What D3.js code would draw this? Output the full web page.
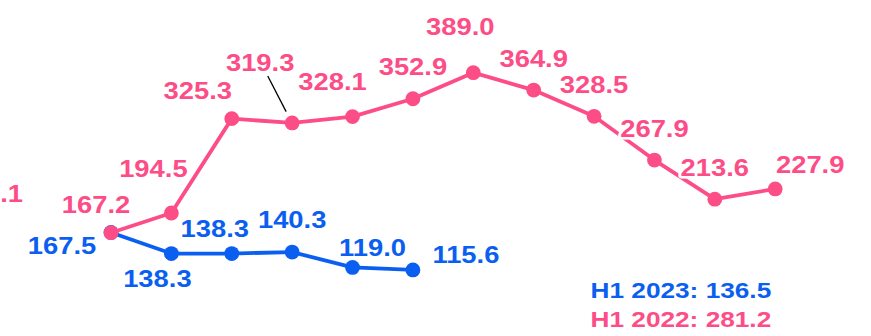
<!DOCTYPE html>
<html>
<head>
<meta charset="utf-8">
<script src="https://cdn.jsdelivr.net/npm/d3@7"></script>
<style>
  html, body { margin: 0; padding: 0; background: #ffffff; }
  svg { display: block; }
  text { font-family: "Liberation Sans", Arial, sans-serif; font-weight: bold; }
</style>
</head>
<body>
<svg id="chart" width="871" height="336"></svg>
<script>
// Monthly values
const months = ["Jan", "Feb", "Mar", "Apr", "May", "Jun", "Jul", "Aug", "Sep", "Oct", "Nov", "Dec"];
const values2022 = [167.2, 194.5, 325.3, 319.3, 328.1, 352.9, 389.0, 364.9, 328.5, 267.9, 213.6, 227.9];
const values2023 = [167.5, 138.3, 138.3, 140.3, 119.0, 115.6];
const summaryLabels = ["H1 2023: 136.5", "H1 2022: 281.2"];
const edgeLabel = ".1";

// Label placement (dx, dy from each point to the label's centre baseline)
const offsets2022 = [[-15, -20], [-18, -36], [-34, -20], [-32, -52], [-20, -27], [0, -24],
                     [-13, -38], [0, -23], [0, -23], [0, -23], [0, -23], [35, -16]];
const offsets2023 = [[-49, 21.5], [-14, 33], [-17, -17], [0, -24], [20, -11], [53, -7]];

const PINK = "#fd4d87";
const BLUE = "#0b5ff0";
const STRETCH = 1.19;

const svg = d3.select("#chart");

const x = d3.scalePoint().domain(months).range([111, 775.2]);
const y = d3.scaleLinear().domain([0, 400]).range([353.3, 64.75]);

const line = d3.line()
  .x((d, i) => x(months[i]))
  .y(d => y(d));

function drawSeries(vals, color) {
  const g = svg.append("g");
  g.append("path")
    .datum(vals)
    .attr("d", line)
    .attr("fill", "none")
    .attr("stroke", color)
    .attr("stroke-width", 3.8)
    .attr("stroke-linejoin", "round");
  g.selectAll("circle")
    .data(vals)
    .join("circle")
    .attr("cx", (d, i) => x(months[i]))
    .attr("cy", d => y(d))
    .attr("r", 7.4)
    .attr("fill", color);
}

drawSeries(values2023, BLUE);
drawSeries(values2022, PINK);

// Leader line for the crowded April label
const aprX = x(months[3]), aprY = y(values2022[3]);
svg.append("line")
  .attr("x1", aprX - 24.4).attr("y1", aprY - 47)
  .attr("x2", aprX - 6).attr("y2", aprY - 11.3)
  .attr("stroke", "#000").attr("stroke-width", 1.3);

function drawLabels(vals, offs, color) {
  svg.append("g").selectAll("text")
    .data(vals)
    .join("text")
    .attr("transform", (d, i) =>
      `translate(${x(months[i]) + offs[i][0]},${y(d) + offs[i][1]}) scale(${STRETCH},1)`)
    .attr("text-anchor", "middle")
    .attr("font-size", 23)
    .attr("fill", color)
    .attr("stroke", "#fff")
    .attr("stroke-width", 5)
    .attr("stroke-linejoin", "round")
    .attr("paint-order", "stroke")
    .text(d => d.toFixed(1));
}

drawLabels(values2023, offsets2023, BLUE);
drawLabels(values2022, offsets2022, PINK);

// Partial label at the left edge
svg.append("text")
  .attr("transform", `translate(23,201.5) scale(${STRETCH},1)`)
  .attr("text-anchor", "end")
  .attr("font-size", 23)
  .attr("fill", PINK)
  .text(edgeLabel);

// Half-year summary
svg.append("g").selectAll("text")
  .data(summaryLabels)
  .join("text")
  .attr("transform", (d, i) => `translate(590.5,${298.3 + i * 28.7}) scale(1.22,1)`)
  .attr("font-size", 21.5)
  .attr("fill", (d, i) => i === 0 ? BLUE : PINK)
  .text(d => d);
</script>
</body>
</html>
